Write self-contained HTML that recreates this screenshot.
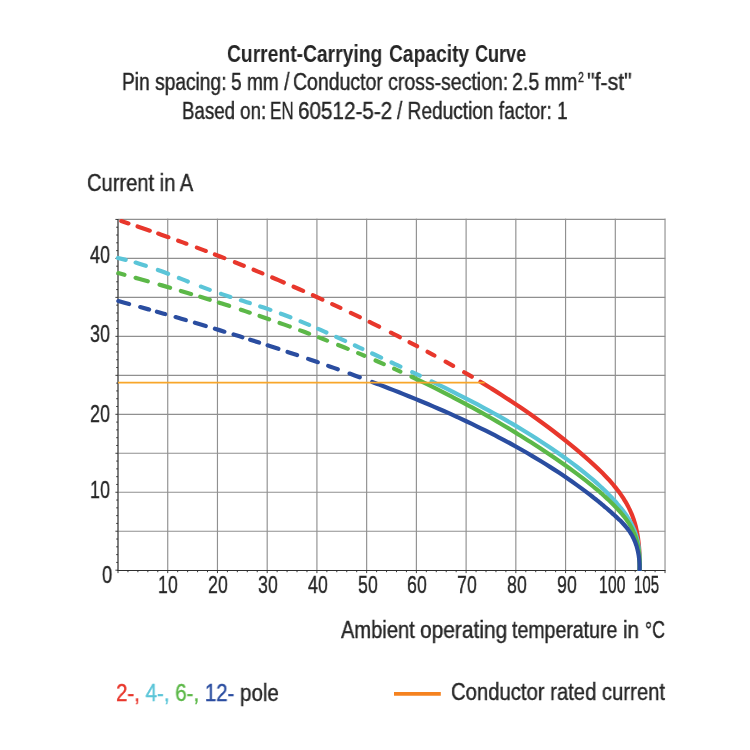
<!DOCTYPE html><html><head><meta charset="utf-8"><title>Current-Carrying Capacity Curve</title><style>
html,body{margin:0;padding:0;background:#fff;}
body{width:750px;height:750px;position:relative;overflow:hidden;font-family:"Liberation Sans",sans-serif;color:#262626;}
.t{position:absolute;white-space:nowrap;transform-origin:0 0;will-change:transform;-webkit-text-stroke:0.4px currentColor;}
.sup{font-size:13px;position:relative;top:-8.5px;line-height:0;}
</style></head><body>
<svg width="750" height="750" viewBox="0 0 750 750" style="position:absolute;left:0;top:0">
<defs><clipPath id="plot"><rect x="100" y="200" width="580" height="371.10"/></clipPath></defs>
<path d="M167.73,218.60 V570.20 M217.46,218.60 V570.20 M267.19,218.60 V570.20 M316.92,218.60 V570.20 M366.65,218.60 V570.20 M416.38,218.60 V570.20 M466.11,218.60 V570.20 M515.84,218.60 V570.20 M565.57,218.60 V570.20 M615.30,218.60 V570.20 M665.03,218.60 V570.20 M118.00,531.23 H665.70 M118.00,492.25 H665.70 M118.00,453.28 H665.70 M118.00,414.30 H665.70 M118.00,375.33 H665.70 M118.00,336.35 H665.70 M118.00,297.38 H665.70 M118.00,258.40 H665.70 M118.00,219.43 H665.70" stroke="#909090" stroke-width="1.15" fill="none"/>
<path d="M118.00,218.90 V571.10" stroke="#555" stroke-width="1.5" fill="none"/>
<path d="M117.30,570.55 H665.60" stroke="#2e2e2e" stroke-width="1.1" fill="none"/>
<path d="M118.00,570.20 h-2.60 M118.00,562.41 h-1.80 M118.00,554.61 h-1.80 M118.00,546.82 h-1.80 M118.00,539.02 h-1.80 M118.00,531.23 h-2.60 M118.00,523.43 h-1.80 M118.00,515.63 h-1.80 M118.00,507.84 h-1.80 M118.00,500.05 h-1.80 M118.00,492.25 h-2.60 M118.00,484.46 h-1.80 M118.00,476.66 h-1.80 M118.00,468.87 h-1.80 M118.00,461.07 h-1.80 M118.00,453.28 h-2.60 M118.00,445.48 h-1.80 M118.00,437.69 h-1.80 M118.00,429.89 h-1.80 M118.00,422.10 h-1.80 M118.00,414.30 h-2.60 M118.00,406.51 h-1.80 M118.00,398.71 h-1.80 M118.00,390.92 h-1.80 M118.00,383.12 h-1.80 M118.00,375.33 h-2.60 M118.00,367.53 h-1.80 M118.00,359.74 h-1.80 M118.00,351.94 h-1.80 M118.00,344.15 h-1.80 M118.00,336.35 h-2.60 M118.00,328.56 h-1.80 M118.00,320.76 h-1.80 M118.00,312.97 h-1.80 M118.00,305.17 h-1.80 M118.00,297.38 h-2.60 M118.00,289.58 h-1.80 M118.00,281.79 h-1.80 M118.00,273.99 h-1.80 M118.00,266.20 h-1.80 M118.00,258.40 h-2.60 M118.00,250.61 h-1.80 M118.00,242.81 h-1.80 M118.00,235.02 h-1.80 M118.00,227.22 h-1.80 M118.00,219.43 h-2.60 M118.00,570.50 v2.60 M127.95,570.50 v1.70 M137.89,570.50 v1.70 M147.84,570.50 v1.70 M157.78,570.50 v1.70 M167.73,570.50 v2.60 M177.68,570.50 v1.70 M187.62,570.50 v1.70 M197.57,570.50 v1.70 M207.51,570.50 v1.70 M217.46,570.50 v2.60 M227.41,570.50 v1.70 M237.35,570.50 v1.70 M247.30,570.50 v1.70 M257.24,570.50 v1.70 M267.19,570.50 v2.60 M277.14,570.50 v1.70 M287.08,570.50 v1.70 M297.03,570.50 v1.70 M306.97,570.50 v1.70 M316.92,570.50 v2.60 M326.87,570.50 v1.70 M336.81,570.50 v1.70 M346.76,570.50 v1.70 M356.70,570.50 v1.70 M366.65,570.50 v2.60 M376.60,570.50 v1.70 M386.54,570.50 v1.70 M396.49,570.50 v1.70 M406.43,570.50 v1.70 M416.38,570.50 v2.60 M426.33,570.50 v1.70 M436.27,570.50 v1.70 M446.22,570.50 v1.70 M456.16,570.50 v1.70 M466.11,570.50 v2.60 M476.06,570.50 v1.70 M486.00,570.50 v1.70 M495.95,570.50 v1.70 M505.89,570.50 v1.70 M515.84,570.50 v2.60 M525.79,570.50 v1.70 M535.73,570.50 v1.70 M545.68,570.50 v1.70 M555.62,570.50 v1.70 M565.57,570.50 v2.60 M575.52,570.50 v1.70 M585.46,570.50 v1.70 M595.41,570.50 v1.70 M605.35,570.50 v1.70 M615.30,570.50 v2.60 M625.25,570.50 v1.70 M635.19,570.50 v1.70 M645.14,570.50 v1.70 M655.08,570.50 v1.70 M665.03,570.50 v2.60" stroke="#333" stroke-width="0.95" fill="none"/>
<g clip-path="url(#plot)" fill="none" stroke-linecap="round" stroke-linejoin="round" stroke-width="4.20">
<path d="M118.00,220.00 C119.81,220.60 125.24,222.37 128.85,223.58 C132.46,224.78 136.07,225.99 139.68,227.21 C143.29,228.44 146.89,229.67 150.49,230.91 C154.09,232.16 157.69,233.41 161.28,234.68 C164.87,235.94 168.46,237.22 172.05,238.50 C175.63,239.79 179.22,241.08 182.79,242.39 C186.37,243.69 189.95,245.01 193.52,246.34 C197.09,247.66 200.65,249.00 204.22,250.35 C207.78,251.69 211.34,253.05 214.89,254.42 C218.45,255.79 222.00,257.17 225.55,258.56 C229.09,259.95 232.64,261.34 236.18,262.75 C239.71,264.16 243.25,265.59 246.78,267.02 C250.31,268.45 253.83,269.89 257.36,271.34 C260.88,272.79 264.39,274.25 267.91,275.73 C271.42,277.20 274.93,278.68 278.43,280.18 C281.94,281.67 285.43,283.18 288.93,284.69 C292.42,286.21 295.91,287.73 299.40,289.27 C302.88,290.80 306.36,292.35 309.84,293.91 C313.31,295.47 316.78,297.03 320.25,298.61 C323.71,300.19 327.18,301.78 330.63,303.38 C334.09,304.98 337.54,306.59 340.98,308.21 C344.43,309.83 347.87,311.46 351.30,313.10 C354.74,314.75 358.17,316.40 361.59,318.06 C365.02,319.73 368.44,321.40 371.85,323.08 C375.27,324.77 378.68,326.47 382.08,328.17 C385.48,329.88 388.88,331.59 392.27,333.32 C395.66,335.05 399.05,336.79 402.43,338.54 C405.81,340.29 409.19,342.05 412.56,343.82 C415.93,345.59 419.29,347.37 422.65,349.16 C426.01,350.95 429.36,352.76 432.70,354.57 C436.05,356.39 439.38,358.22 442.71,360.06 C446.04,361.90 449.36,363.76 452.68,365.63 C455.99,367.51 459.29,369.39 462.59,371.30 C465.88,373.20 469.17,375.12 472.44,377.06 C475.72,378.99 478.98,380.95 482.23,382.92 C485.49,384.90 488.73,386.89 491.96,388.90 C495.19,390.91 498.41,392.94 501.61,395.00 C504.82,397.05 508.01,399.12 511.19,401.22 C514.37,403.32 517.53,405.43 520.68,407.58 C523.83,409.72 526.97,411.88 530.09,414.07 C533.21,416.26 536.32,418.48 539.41,420.72 C542.50,422.96 545.57,425.22 548.63,427.52 C551.69,429.81 554.73,432.13 557.75,434.48 C560.77,436.83 563.78,439.20 566.76,441.61 C569.75,444.02 572.72,446.45 575.66,448.92 C578.61,451.38 581.55,453.88 584.45,456.41 C587.36,458.94 590.26,461.49 593.10,464.10 C595.93,466.70 598.75,469.34 601.47,472.04 C604.18,474.74 607.82,478.64 609.39,480.30 C610.95,481.95 610.38,481.41 610.87,481.97 C611.37,482.52 611.85,483.08 612.34,483.65 C612.82,484.21 613.30,484.78 613.77,485.35 C614.25,485.91 614.72,486.49 615.18,487.06 C615.65,487.63 616.11,488.21 616.56,488.79 C617.02,489.37 617.47,489.95 617.91,490.54 C618.36,491.13 618.80,491.71 619.23,492.31 C619.66,492.90 620.09,493.49 620.51,494.09 C620.94,494.69 621.35,495.29 621.76,495.90 C622.17,496.50 622.58,497.11 622.98,497.72 C623.38,498.33 623.77,498.94 624.15,499.56 C624.54,500.18 624.92,500.80 625.29,501.43 C625.66,502.05 626.03,502.68 626.39,503.31 C626.75,503.94 627.10,504.58 627.45,505.22 C627.79,505.86 628.13,506.50 628.46,507.14 C628.80,507.79 629.12,508.44 629.44,509.10 C629.75,509.75 630.06,510.41 630.36,511.07 C630.66,511.73 630.96,512.40 631.24,513.07 C631.53,513.74 631.81,514.41 632.08,515.09 C632.35,515.76 632.61,516.45 632.86,517.13 C633.11,517.82 633.36,518.51 633.60,519.20 C633.83,519.90 634.06,520.60 634.28,521.30 C634.50,522.00 634.71,522.71 634.91,523.42 C635.12,524.13 635.31,524.84 635.50,525.56 C635.69,526.27 635.87,526.99 636.04,527.72 C636.22,528.44 636.38,529.17 636.54,529.90 C636.70,530.62 636.85,531.36 637.00,532.09 C637.14,532.82 637.28,533.56 637.41,534.30 C637.54,535.04 637.66,535.78 637.78,536.52 C637.90,537.27 638.01,538.01 638.12,538.76 C638.22,539.51 638.32,540.25 638.41,541.00 C638.51,541.75 638.59,542.51 638.68,543.26 C638.76,544.01 638.83,544.77 638.90,545.52 C638.97,546.28 639.04,547.03 639.10,547.79 C639.16,548.54 639.21,549.30 639.26,550.06 C639.31,550.82 639.36,551.57 639.40,552.33 C639.44,553.09 639.47,553.85 639.51,554.60 C639.54,555.36 639.56,556.12 639.59,556.88 C639.61,557.63 639.63,558.39 639.64,559.15 C639.66,559.90 639.67,560.66 639.67,561.41 C639.68,562.17 639.68,562.92 639.68,563.67 C639.68,564.42 639.68,565.18 639.67,565.93 C639.66,566.67 639.65,567.42 639.64,568.17 C639.63,568.91 639.60,570.03 639.59,570.40" stroke="#e8372c" stroke-dasharray="7.48 9.70 12.89 8.89 10.82 10.41 8.73 11.20 9.51 9.74 10.19 11.29 9.59 10.58 9.52 10.63 12.61 10.68 10.38 10.73 10.43 10.79 9.05 11.62 9.88 10.90 10.60 13.21 10.00 11.04 8.47 11.90 7.73 12.79 8.60 12.79 8.81 10.02 310.70 1000.00" stroke-dashoffset="-3.47"/>
<path d="M118.00,258.00 C119.79,258.44 125.18,259.69 128.73,260.64 C132.28,261.59 135.80,262.62 139.30,263.70 C142.81,264.78 146.29,265.93 149.75,267.11 C153.22,268.30 156.67,269.54 160.11,270.80 C163.55,272.05 166.97,273.36 170.39,274.67 C173.81,275.98 177.22,277.32 180.64,278.65 C184.05,279.98 187.46,281.34 190.87,282.67 C194.29,284.00 197.70,285.33 201.13,286.64 C204.55,287.94 207.98,289.23 211.43,290.48 C214.87,291.72 218.33,292.94 221.80,294.12 C225.27,295.29 228.76,296.42 232.25,297.55 C235.74,298.67 239.25,299.76 242.74,300.87 C246.24,301.97 249.75,303.06 253.24,304.18 C256.73,305.30 260.22,306.42 263.69,307.58 C267.17,308.75 270.63,309.94 274.08,311.17 C277.53,312.41 280.96,313.68 284.38,314.98 C287.80,316.28 291.21,317.61 294.61,318.97 C298.01,320.33 301.40,321.71 304.78,323.12 C308.16,324.53 311.53,325.97 314.90,327.42 C318.26,328.87 321.62,330.35 324.97,331.83 C328.32,333.32 331.67,334.82 335.01,336.33 C338.35,337.85 341.69,339.37 345.02,340.91 C348.36,342.44 351.69,343.98 355.02,345.52 C358.35,347.06 361.68,348.61 365.01,350.15 C368.34,351.70 371.67,353.24 375.00,354.78 C378.33,356.33 381.66,357.87 384.99,359.41 C388.32,360.96 391.65,362.51 394.97,364.05 C398.30,365.60 401.63,367.16 404.95,368.71 C408.27,370.27 411.59,371.83 414.90,373.40 C418.22,374.97 421.53,376.54 424.84,378.12 C428.15,379.71 431.45,381.30 434.75,382.90 C438.05,384.50 441.34,386.10 444.63,387.72 C447.91,389.34 451.19,390.97 454.47,392.62 C457.74,394.26 461.01,395.91 464.26,397.58 C467.52,399.25 470.77,400.94 474.01,402.64 C477.25,404.34 480.49,406.05 483.71,407.78 C486.93,409.51 490.15,411.26 493.35,413.03 C496.55,414.80 499.74,416.58 502.92,418.39 C506.10,420.20 509.27,422.03 512.43,423.88 C515.59,425.73 518.73,427.60 521.87,429.49 C525.00,431.39 528.12,433.30 531.22,435.25 C534.32,437.19 537.42,439.16 540.49,441.15 C543.57,443.15 546.63,445.17 549.67,447.22 C552.72,449.27 555.75,451.34 558.76,453.45 C561.77,455.56 564.77,457.69 567.75,459.86 C570.72,462.03 573.69,464.23 576.61,466.47 C579.54,468.71 582.44,470.99 585.30,473.31 C588.16,475.64 590.99,478.00 593.77,480.42 C596.54,482.84 600.32,486.34 601.94,487.83 C603.57,489.31 602.99,488.82 603.51,489.32 C604.03,489.82 604.55,490.33 605.07,490.83 C605.59,491.34 606.10,491.84 606.61,492.35 C607.12,492.86 607.63,493.37 608.14,493.89 C608.65,494.40 609.15,494.92 609.65,495.44 C610.15,495.96 610.65,496.48 611.15,497.00 C611.65,497.53 612.14,498.05 612.63,498.58 C613.12,499.11 613.61,499.64 614.10,500.17 C614.58,500.71 615.07,501.24 615.55,501.78 C616.03,502.32 616.51,502.86 616.98,503.41 C617.45,503.95 617.93,504.50 618.39,505.05 C618.86,505.60 619.33,506.15 619.79,506.71 C620.25,507.26 620.70,507.82 621.16,508.38 C621.61,508.94 622.05,509.51 622.49,510.08 C622.94,510.64 623.37,511.21 623.80,511.79 C624.23,512.36 624.65,512.94 625.07,513.52 C625.49,514.11 625.90,514.69 626.30,515.28 C626.71,515.87 627.10,516.46 627.49,517.06 C627.88,517.65 628.26,518.26 628.63,518.86 C629.00,519.47 629.37,520.07 629.72,520.69 C630.08,521.30 630.43,521.92 630.76,522.54 C631.10,523.16 631.43,523.79 631.74,524.42 C632.06,525.05 632.37,525.68 632.67,526.32 C632.96,526.96 633.25,527.60 633.53,528.25 C633.81,528.90 634.08,529.55 634.34,530.20 C634.59,530.86 634.84,531.52 635.08,532.18 C635.32,532.84 635.55,533.51 635.77,534.18 C635.99,534.85 636.20,535.53 636.39,536.20 C636.59,536.88 636.78,537.56 636.96,538.25 C637.14,538.93 637.31,539.62 637.46,540.31 C637.62,541.01 637.77,541.70 637.91,542.40 C638.04,543.10 638.17,543.80 638.29,544.50 C638.41,545.21 638.52,545.91 638.62,546.62 C638.72,547.33 638.81,548.04 638.90,548.76 C638.98,549.47 639.05,550.19 639.12,550.90 C639.19,551.62 639.25,552.34 639.30,553.06 C639.36,553.78 639.40,554.50 639.44,555.23 C639.48,555.95 639.51,556.67 639.54,557.40 C639.57,558.12 639.59,558.85 639.61,559.57 C639.62,560.30 639.64,561.02 639.64,561.75 C639.65,562.47 639.66,563.19 639.66,563.92 C639.66,564.64 639.66,565.36 639.65,566.09 C639.65,566.81 639.64,567.53 639.63,568.25 C639.62,568.97 639.60,570.04 639.60,570.40" stroke="#5bc5d8" stroke-dasharray="7.82 10.37 10.69 12.81 10.89 11.58 9.56 14.05 9.50 11.77 10.01 11.02 9.33 10.92 10.77 11.16 10.17 10.99 9.21 9.91 8.96 10.75 9.79 10.79 8.27 10.80 9.81 11.58 9.71 13.03 8.41 13.08 346.16 1000.00" stroke-dashoffset="-0.00"/>
<path d="M118.00,273.00 C119.73,273.48 124.94,274.90 128.41,275.86 C131.88,276.82 135.34,277.79 138.81,278.76 C142.28,279.74 145.75,280.72 149.22,281.70 C152.69,282.69 156.16,283.68 159.62,284.69 C163.09,285.69 166.56,286.70 170.02,287.71 C173.49,288.73 176.95,289.75 180.41,290.79 C183.88,291.82 187.34,292.86 190.80,293.91 C194.26,294.95 197.72,296.01 201.18,297.07 C204.63,298.14 208.09,299.21 211.54,300.29 C215.00,301.38 218.45,302.47 221.90,303.57 C225.35,304.66 228.79,305.77 232.24,306.89 C235.68,308.01 239.12,309.14 242.56,310.27 C246.00,311.41 249.44,312.56 252.87,313.71 C256.30,314.87 259.73,316.03 263.16,317.21 C266.59,318.39 270.01,319.57 273.43,320.77 C276.85,321.97 280.26,323.18 283.67,324.39 C287.09,325.61 290.49,326.84 293.90,328.08 C297.30,329.32 300.70,330.57 304.10,331.84 C307.49,333.10 310.88,334.37 314.27,335.66 C317.65,336.94 321.03,338.24 324.41,339.55 C327.79,340.86 331.16,342.18 334.52,343.51 C337.89,344.84 341.25,346.19 344.61,347.55 C347.96,348.90 351.31,350.27 354.66,351.66 C358.00,353.04 361.34,354.44 364.67,355.85 C368.00,357.25 371.33,358.68 374.65,360.11 C377.97,361.55 381.28,362.99 384.59,364.46 C387.89,365.92 391.19,367.39 394.49,368.88 C397.78,370.37 401.07,371.88 404.35,373.40 C407.63,374.91 410.90,376.45 414.16,377.99 C417.43,379.54 420.69,381.10 423.94,382.68 C427.19,384.25 430.43,385.84 433.66,387.45 C436.90,389.05 440.12,390.68 443.34,392.31 C446.56,393.95 449.77,395.60 452.97,397.27 C456.17,398.93 459.36,400.62 462.55,402.32 C465.73,404.01 468.91,405.73 472.08,407.46 C475.24,409.19 478.40,410.94 481.55,412.70 C484.70,414.47 487.84,416.25 490.96,418.04 C494.09,419.84 497.21,421.65 500.32,423.48 C503.43,425.32 506.53,427.16 509.63,429.03 C512.72,430.89 515.80,432.78 518.87,434.68 C521.94,436.58 525.00,438.50 528.04,440.43 C531.09,442.37 534.13,444.32 537.16,446.30 C540.19,448.27 543.20,450.26 546.21,452.27 C549.21,454.28 552.21,456.30 555.19,458.35 C558.17,460.40 561.15,462.46 564.11,464.55 C567.06,466.63 570.02,468.73 572.95,470.86 C575.87,472.99 578.79,475.14 581.67,477.34 C584.56,479.53 587.42,481.75 590.24,484.02 C593.06,486.29 596.94,489.58 598.60,490.97 C600.26,492.36 599.68,491.90 600.21,492.37 C600.75,492.84 601.28,493.31 601.82,493.78 C602.35,494.25 602.88,494.73 603.41,495.21 C603.94,495.68 604.47,496.16 604.99,496.65 C605.52,497.13 606.04,497.61 606.56,498.10 C607.08,498.58 607.60,499.07 608.12,499.57 C608.64,500.06 609.15,500.55 609.67,501.05 C610.18,501.54 610.69,502.04 611.20,502.54 C611.71,503.04 612.22,503.55 612.72,504.05 C613.22,504.56 613.73,505.07 614.23,505.58 C614.73,506.09 615.22,506.61 615.72,507.13 C616.22,507.64 616.71,508.16 617.20,508.69 C617.69,509.21 618.18,509.73 618.66,510.26 C619.14,510.79 619.63,511.32 620.10,511.86 C620.58,512.39 621.05,512.93 621.51,513.48 C621.98,514.02 622.44,514.56 622.90,515.11 C623.35,515.66 623.80,516.22 624.24,516.77 C624.69,517.33 625.12,517.89 625.55,518.46 C625.98,519.03 626.40,519.60 626.81,520.17 C627.22,520.74 627.63,521.32 628.02,521.91 C628.42,522.49 628.81,523.08 629.18,523.67 C629.56,524.27 629.92,524.86 630.28,525.47 C630.63,526.07 630.98,526.68 631.31,527.29 C631.65,527.91 631.97,528.53 632.28,529.15 C632.59,529.78 632.89,530.41 633.18,531.04 C633.47,531.67 633.74,532.31 634.01,532.96 C634.28,533.60 634.53,534.25 634.78,534.90 C635.03,535.55 635.26,536.21 635.49,536.87 C635.71,537.53 635.93,538.20 636.13,538.86 C636.34,539.53 636.53,540.20 636.72,540.88 C636.90,541.55 637.08,542.23 637.24,542.92 C637.41,543.60 637.57,544.28 637.71,544.97 C637.86,545.66 638.00,546.35 638.13,547.04 C638.26,547.73 638.38,548.43 638.49,549.13 C638.60,549.82 638.70,550.52 638.80,551.23 C638.89,551.93 638.98,552.63 639.06,553.34 C639.14,554.04 639.20,554.75 639.27,555.46 C639.33,556.17 639.38,556.88 639.43,557.59 C639.47,558.30 639.51,559.01 639.54,559.72 C639.58,560.43 639.60,561.15 639.62,561.86 C639.64,562.57 639.65,563.29 639.66,564.00 C639.67,564.71 639.67,565.43 639.67,566.14 C639.66,566.85 639.66,567.56 639.64,568.27 C639.63,568.98 639.60,570.05 639.60,570.40" stroke="#5cb848" stroke-dasharray="6.22 11.62 12.67 12.27 10.94 11.26 10.65 9.51 10.05 9.54 10.71 12.41 9.38 10.34 10.05 11.13 10.83 11.07 9.50 10.48 8.79 11.93 10.35 11.25 6.72 12.18 8.95 11.39 6.81 12.35 363.19 1000.00" stroke-dashoffset="-0.41"/>
<path d="M118.00,301.00 C119.70,301.46 124.78,302.84 128.17,303.77 C131.56,304.69 134.95,305.63 138.34,306.56 C141.73,307.50 145.12,308.44 148.50,309.39 C151.89,310.34 155.27,311.29 158.66,312.25 C162.04,313.21 165.42,314.18 168.80,315.14 C172.18,316.11 175.56,317.09 178.94,318.07 C182.32,319.05 185.70,320.04 189.07,321.03 C192.45,322.02 195.82,323.02 199.19,324.02 C202.57,325.03 205.94,326.04 209.30,327.05 C212.67,328.07 216.04,329.09 219.41,330.12 C222.77,331.14 226.14,332.18 229.50,333.22 C232.86,334.26 236.22,335.30 239.58,336.36 C242.94,337.41 246.29,338.47 249.65,339.53 C253.00,340.60 256.35,341.67 259.70,342.75 C263.05,343.83 266.40,344.92 269.75,346.01 C273.10,347.10 276.44,348.20 279.78,349.30 C283.12,350.41 286.46,351.52 289.80,352.64 C293.14,353.76 296.47,354.89 299.81,356.02 C303.14,357.15 306.47,358.29 309.80,359.44 C313.12,360.59 316.45,361.74 319.77,362.91 C323.10,364.07 326.42,365.24 329.73,366.42 C333.05,367.59 336.37,368.78 339.68,369.97 C342.99,371.16 346.30,372.36 349.61,373.57 C352.92,374.78 356.22,375.99 359.52,377.22 C362.82,378.44 366.12,379.67 369.42,380.91 C372.71,382.15 376.01,383.39 379.30,384.65 C382.59,385.91 385.87,387.17 389.15,388.45 C392.43,389.72 395.71,391.01 398.98,392.30 C402.25,393.60 405.52,394.91 408.78,396.23 C412.05,397.55 415.30,398.88 418.55,400.22 C421.80,401.57 425.05,402.92 428.29,404.30 C431.52,405.67 434.76,407.05 437.98,408.45 C441.20,409.85 444.42,411.27 447.63,412.70 C450.84,414.13 454.04,415.57 457.24,417.04 C460.43,418.50 463.61,419.98 466.79,421.48 C469.97,422.97 473.13,424.49 476.29,426.02 C479.45,427.55 482.60,429.11 485.74,430.68 C488.87,432.25 492.00,433.84 495.12,435.45 C498.24,437.06 501.34,438.69 504.44,440.35 C507.54,442.00 510.62,443.67 513.69,445.37 C516.77,447.07 519.83,448.79 522.87,450.53 C525.92,452.27 528.96,454.04 531.98,455.83 C535.00,457.62 538.01,459.43 541.01,461.27 C544.01,463.11 546.99,464.98 549.96,466.87 C552.93,468.76 555.88,470.68 558.82,472.62 C561.76,474.57 564.69,476.54 567.59,478.54 C570.50,480.53 573.40,482.56 576.27,484.62 C579.14,486.68 582.00,488.76 584.83,490.88 C587.65,493.00 591.56,496.04 593.23,497.33 C594.91,498.62 594.32,498.19 594.87,498.62 C595.41,499.05 595.95,499.48 596.49,499.91 C597.03,500.35 597.57,500.78 598.11,501.22 C598.65,501.66 599.19,502.09 599.73,502.53 C600.26,502.97 600.80,503.41 601.33,503.85 C601.86,504.29 602.40,504.74 602.93,505.18 C603.46,505.63 603.99,506.07 604.52,506.52 C605.05,506.96 605.57,507.41 606.10,507.86 C606.62,508.31 607.15,508.76 607.67,509.21 C608.19,509.67 608.72,510.12 609.24,510.57 C609.76,511.03 610.28,511.49 610.79,511.94 C611.31,512.40 611.83,512.86 612.34,513.32 C612.86,513.78 613.37,514.24 613.88,514.71 C614.39,515.17 614.90,515.63 615.41,516.10 C615.92,516.57 616.43,517.03 616.93,517.50 C617.43,517.97 617.94,518.44 618.43,518.92 C618.93,519.39 619.43,519.87 619.92,520.35 C620.41,520.83 620.90,521.31 621.38,521.80 C621.86,522.28 622.34,522.77 622.81,523.27 C623.28,523.76 623.74,524.26 624.20,524.77 C624.66,525.27 625.11,525.78 625.55,526.30 C625.99,526.81 626.43,527.33 626.85,527.86 C627.28,528.38 627.70,528.91 628.10,529.45 C628.51,529.99 628.91,530.54 629.30,531.09 C629.68,531.64 630.06,532.20 630.43,532.77 C630.79,533.34 631.15,533.91 631.49,534.50 C631.83,535.08 632.16,535.67 632.48,536.27 C632.80,536.87 633.11,537.48 633.40,538.09 C633.70,538.70 633.98,539.32 634.25,539.95 C634.53,540.57 634.79,541.20 635.04,541.84 C635.29,542.48 635.53,543.12 635.76,543.77 C635.99,544.41 636.21,545.07 636.42,545.72 C636.63,546.38 636.82,547.04 637.01,547.71 C637.20,548.37 637.37,549.04 637.54,549.72 C637.70,550.39 637.86,551.07 638.00,551.75 C638.15,552.43 638.29,553.11 638.41,553.79 C638.54,554.48 638.65,555.17 638.76,555.85 C638.86,556.54 638.96,557.23 639.05,557.93 C639.13,558.62 639.21,559.31 639.28,560.00 C639.34,560.70 639.40,561.39 639.45,562.09 C639.50,562.78 639.54,563.48 639.57,564.17 C639.60,564.87 639.62,565.56 639.63,566.25 C639.64,566.95 639.65,567.64 639.64,568.33 C639.64,569.02 639.61,570.06 639.60,570.40" stroke="#2a4da0" stroke-dasharray="11.09 11.51 9.24 8.10 8.52 10.92 10.62 9.49 11.37 9.51 9.93 9.63 9.22 8.18 9.34 8.93 11.37 9.69 10.02 11.73 10.16 11.02 10.19 12.55 10.87 13.24 391.17 1000.00" stroke-dashoffset="-0.41"/>
</g>
<path d="M118.00,382.70 H484.70" stroke="#f8a62a" stroke-width="1.8" fill="none"/>
<path d="M394,693.9 H440.8" stroke="#f5821f" stroke-width="3.8" fill="none"/>
</svg>
<div class="t" id="t1a" style="left:227.14px;top:43.03px;font-size:23.0px;line-height:23.0px;height:23.0px;font-weight:bold;-webkit-text-stroke:0;transform:scaleX(0.8382)">Current-Carrying</div>
<div class="t" id="t1b" style="left:389.16px;top:43.03px;font-size:23.0px;line-height:23.0px;height:23.0px;font-weight:bold;-webkit-text-stroke:0;transform:scaleX(0.8359)">Capacity</div>
<div class="t" id="t1c" style="left:474.53px;top:43.03px;font-size:23.0px;line-height:23.0px;height:23.0px;font-weight:bold;-webkit-text-stroke:0;transform:scaleX(0.7845)">Curve</div>
<div class="t" id="t2a" style="left:121.99px;top:71.33px;font-size:23.0px;line-height:23.0px;height:23.0px;font-weight:normal;transform:scaleX(0.8336)">Pin spacing:</div>
<div class="t" id="t2b" style="left:230.97px;top:71.33px;font-size:23.0px;line-height:23.0px;height:23.0px;font-weight:normal;transform:scaleX(0.8314)">5 mm /</div>
<div class="t" id="t2c" style="left:292.97px;top:71.33px;font-size:23.0px;line-height:23.0px;height:23.0px;font-weight:normal;transform:scaleX(0.8458)">Conductor cross-section:</div>
<div class="t" id="t2d" style="left:511.94px;top:71.33px;font-size:23.0px;line-height:23.0px;height:23.0px;font-weight:normal;transform:scaleX(0.8516)">2.5 mm</div>
<div class="t" id="s2e" style="left:578.20px;top:70.31px;font-size:14.4px;line-height:14.4px;height:14.4px;font-weight:normal;transform:scaleX(0.7395)">2</div>
<div class="t" id="t2f" style="left:586.96px;top:71.33px;font-size:23.0px;line-height:23.0px;height:23.0px;font-weight:normal;transform:scaleX(0.9266)">"f-st"</div>
<div class="t" id="t3a" style="left:181.99px;top:100.33px;font-size:23.0px;line-height:23.0px;height:23.0px;font-weight:normal;transform:scaleX(0.8120)">Based on:</div>
<div class="t" id="t3b" style="left:270.09px;top:100.33px;font-size:23.0px;line-height:23.0px;height:23.0px;font-weight:normal;transform:scaleX(0.7451)">EN</div>
<div class="t" id="t3c" style="left:297.97px;top:100.33px;font-size:23.0px;line-height:23.0px;height:23.0px;font-weight:normal;transform:scaleX(0.8984)">60512-5-2</div>
<div class="t" id="t3d" style="left:396.82px;top:100.33px;font-size:23.0px;line-height:23.0px;height:23.0px;font-weight:normal;transform:scaleX(0.8293)">/ Reduction factor: 1</div>
<div class="t" id="t4" style="left:87.15px;top:172.13px;font-size:23.0px;line-height:23.0px;height:23.0px;font-weight:normal;transform:scaleX(0.8752)">Current in A</div>
<div class="t" id="t5a" style="left:340.64px;top:618.83px;font-size:23.0px;line-height:23.0px;height:23.0px;font-weight:normal;transform:scaleX(0.8740)">Ambient</div>
<div class="t" id="t5b" style="left:419.53px;top:618.83px;font-size:23.0px;line-height:23.0px;height:23.0px;font-weight:normal;transform:scaleX(0.9102)">operating</div>
<div class="t" id="t5c" style="left:512.01px;top:618.83px;font-size:23.0px;line-height:23.0px;height:23.0px;font-weight:normal;transform:scaleX(0.8494)">temperature</div>
<div class="t" id="t5d" style="left:623.03px;top:618.83px;font-size:23.0px;line-height:23.0px;height:23.0px;font-weight:normal;transform:scaleX(0.8961)">in</div>
<div class="t" id="t5e" style="left:644.59px;top:618.83px;font-size:23.0px;line-height:23.0px;height:23.0px;font-weight:normal;transform:scaleX(0.7717)">°C</div>
<div class="t" id="t6" style="left:115.80px;top:681.53px;font-size:23.0px;line-height:23.0px;height:23.0px;font-weight:normal;transform:scaleX(0.8905)"><span style="color:#e8372c">2-,</span> <span style="color:#5bc5d8">4-,</span> <span style="color:#5cb848">6-,</span> <span style="color:#2a4da0">12-</span> pole</div>
<div class="t" id="t7" style="left:450.76px;top:681.43px;font-size:23.0px;line-height:23.0px;height:23.0px;font-weight:normal;transform:scaleX(0.8811)">Conductor rated current</div>
<div class="t" id="y40" style="left:90.40px;top:243.86px;font-size:23.2px;line-height:23.2px;height:23.2px;font-weight:normal;transform:scaleX(0.7740)">40</div>
<div class="t" id="y30" style="left:90.40px;top:322.76px;font-size:23.2px;line-height:23.2px;height:23.2px;font-weight:normal;transform:scaleX(0.7740)">30</div>
<div class="t" id="y20" style="left:90.40px;top:403.06px;font-size:23.2px;line-height:23.2px;height:23.2px;font-weight:normal;transform:scaleX(0.7740)">20</div>
<div class="t" id="y10" style="left:90.38px;top:478.76px;font-size:23.2px;line-height:23.2px;height:23.2px;font-weight:normal;transform:scaleX(0.7740)">10</div>
<div class="t" id="y0" style="left:102.01px;top:564.26px;font-size:23.2px;line-height:23.2px;height:23.2px;font-weight:normal;transform:scaleX(0.7949)">0</div>
<div class="t" id="x10" style="left:158.03px;top:574.16px;font-size:23.2px;line-height:23.2px;height:23.2px;font-weight:normal;transform:scaleX(0.7667)">10</div>
<div class="t" id="x20" style="left:208.46px;top:574.16px;font-size:23.2px;line-height:23.2px;height:23.2px;font-weight:normal;transform:scaleX(0.7667)">20</div>
<div class="t" id="x30" style="left:258.19px;top:574.16px;font-size:23.2px;line-height:23.2px;height:23.2px;font-weight:normal;transform:scaleX(0.7667)">30</div>
<div class="t" id="x40" style="left:307.92px;top:574.16px;font-size:23.2px;line-height:23.2px;height:23.2px;font-weight:normal;transform:scaleX(0.7667)">40</div>
<div class="t" id="x50" style="left:357.65px;top:574.16px;font-size:23.2px;line-height:23.2px;height:23.2px;font-weight:normal;transform:scaleX(0.7667)">50</div>
<div class="t" id="x60" style="left:407.38px;top:574.16px;font-size:23.2px;line-height:23.2px;height:23.2px;font-weight:normal;transform:scaleX(0.7667)">60</div>
<div class="t" id="x70" style="left:457.11px;top:574.16px;font-size:23.2px;line-height:23.2px;height:23.2px;font-weight:normal;transform:scaleX(0.7667)">70</div>
<div class="t" id="x80" style="left:506.84px;top:574.16px;font-size:23.2px;line-height:23.2px;height:23.2px;font-weight:normal;transform:scaleX(0.7667)">80</div>
<div class="t" id="x90" style="left:556.57px;top:574.16px;font-size:23.2px;line-height:23.2px;height:23.2px;font-weight:normal;transform:scaleX(0.7667)">90</div>
<div class="t" id="x100" style="left:598.53px;top:574.16px;font-size:23.2px;line-height:23.2px;height:23.2px;font-weight:normal;transform:scaleX(0.6843)">100</div>
<div class="t" id="x105" style="left:634.35px;top:574.16px;font-size:23.2px;line-height:23.2px;height:23.2px;font-weight:normal;transform:scaleX(0.6472)">105</div>
</body></html>
